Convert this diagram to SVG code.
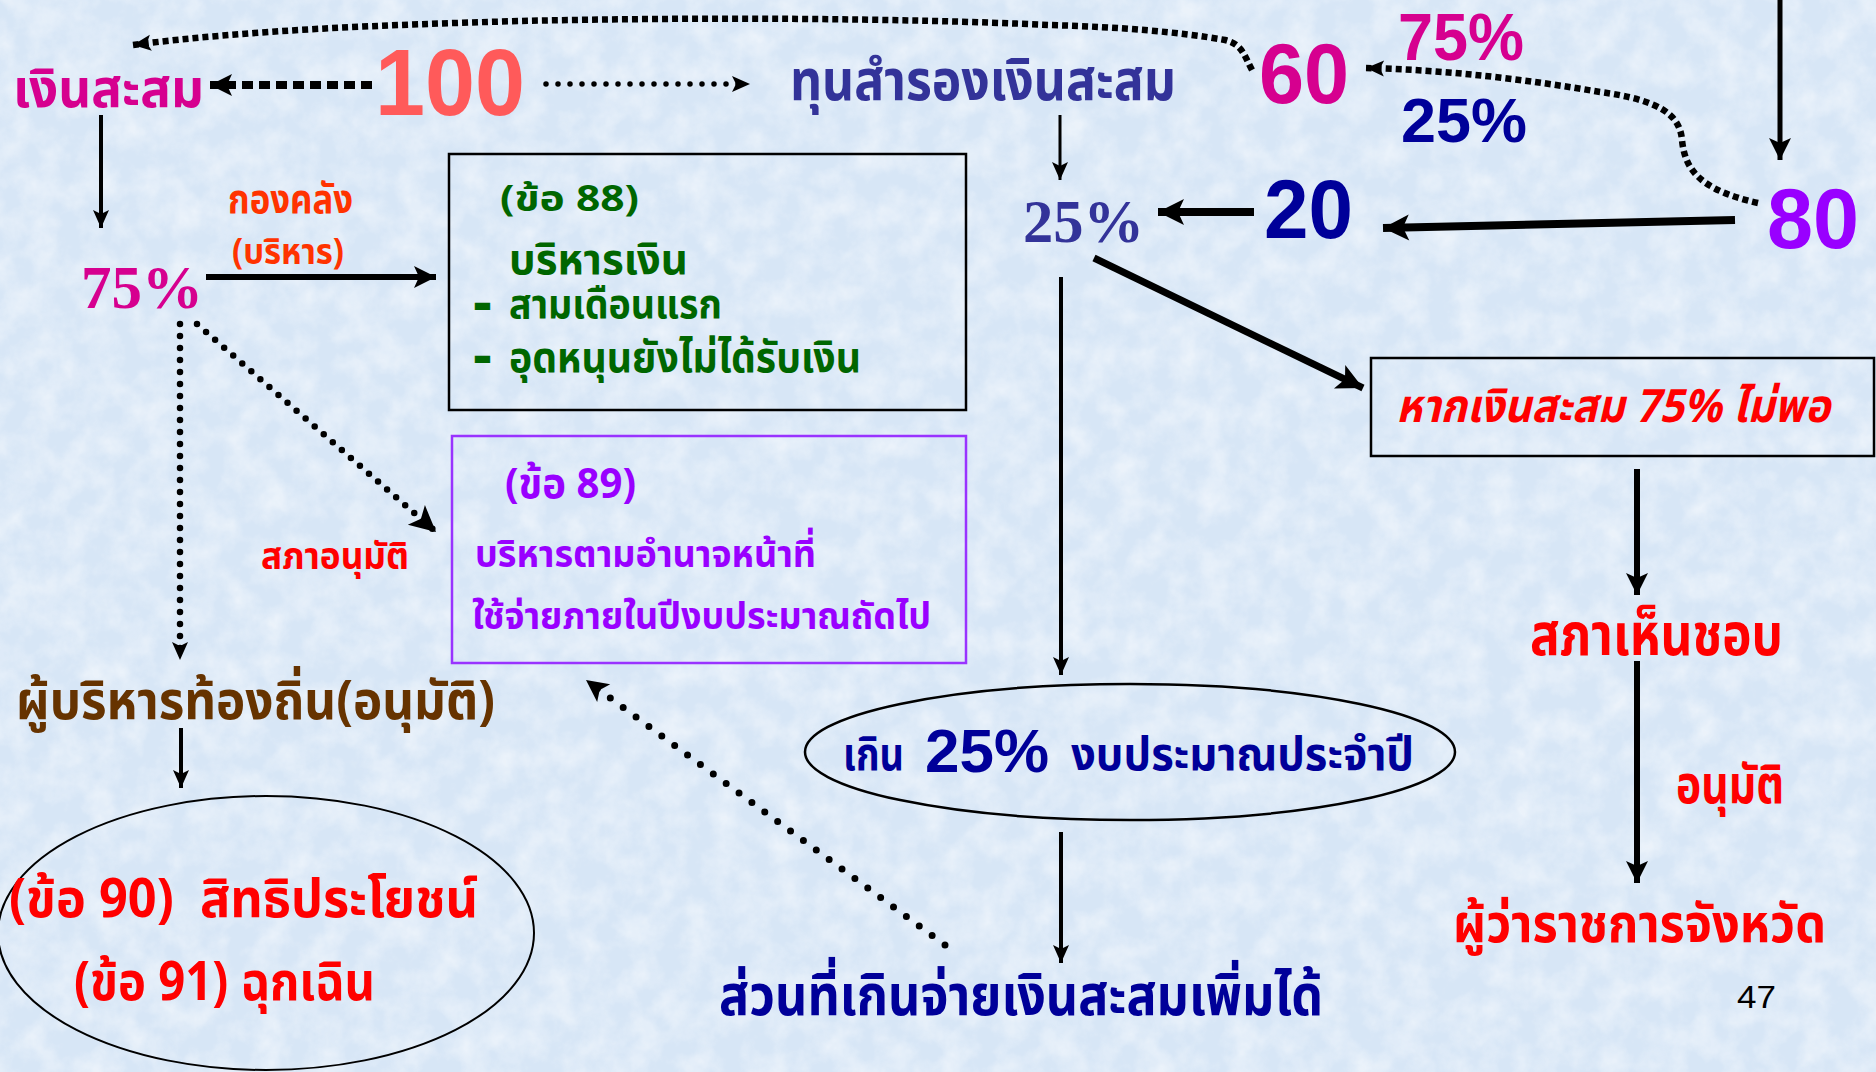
<svg xmlns="http://www.w3.org/2000/svg" width="1876" height="1072" viewBox="0 0 1876 1072">
<defs>
<style>
.th{font-family:"Noto Sans Thai","Noto Serif Thai","Tlwg Typo","Garuda","Loma","Norasi","Liberation Serif",serif;font-weight:bold}
.ar{font-family:"Liberation Sans",Arial,sans-serif;font-weight:bold}
.tm{font-family:"Liberation Serif","Times New Roman",serif;font-weight:bold}
.ln{fill:none;stroke:#000}
.dot{fill:none;stroke:#000;stroke-linecap:round}
.box{fill:none;stroke:#000;stroke-width:2.5}
</style>
<filter id="tex" x="0" y="0" width="100%" height="100%">
<feTurbulence type="fractalNoise" baseFrequency="0.035" numOctaves="4" seed="7"/>
<feColorMatrix type="matrix" values="0 0 0 0 1  0 0 0 0 1  0 0 0 0 1  0 0 0 1.8 -0.6"/>
</filter>
<marker id="ahs" markerUnits="userSpaceOnUse" viewBox="0 0 18 16" markerWidth="18" markerHeight="16" refX="18" refY="8" orient="auto" overflow="visible"><path d="M0,0 L18,8 L0,16 L4,8 z" fill="#000"/></marker>
<marker id="ahm" markerUnits="userSpaceOnUse" viewBox="0 0 22 22" markerWidth="22" markerHeight="22" refX="22" refY="11" orient="auto" overflow="visible"><path d="M0,0 L22,11 L0,22 L5,11 z" fill="#000"/></marker>
<marker id="ahl" markerUnits="userSpaceOnUse" viewBox="0 0 26 26" markerWidth="26" markerHeight="26" refX="26" refY="13" orient="auto" overflow="visible"><path d="M0,0 L26,13 L0,26 L6,13 z" fill="#000"/></marker>
</defs>
<rect width="1876" height="1072" fill="#d7e6f6"/>
<rect width="1876" height="1072" filter="url(#tex)" opacity="0.5"/>

<g id="connectors">
<path class="ln" d="M1252,70 C1244,55 1242,44 1225,40 C1180,32 1120,27 1050,25 C900,18 700,17 520,21 C380,25 250,30 133,45" stroke-width="6.5" stroke-dasharray="6 4" marker-end="url(#ahs)"/>
<path class="ln" d="M372,85 L210,85" stroke-width="8" stroke-dasharray="11 6" marker-end="url(#ahm)"/>
<path class="dot" d="M546,84 L750,84" stroke-width="5.5" stroke-dasharray="0 12" marker-end="url(#ahs)"/>
<path class="ln" d="M101,115 L101,228" stroke-width="4" marker-end="url(#ahs)"/>
<path class="ln" d="M206,277 L436,277" stroke-width="6" marker-end="url(#ahm)"/>
<path class="dot" d="M180,324 L180,660" stroke-width="6.5" stroke-dasharray="0 12" marker-end="url(#ahs)"/>
<path class="dot" d="M197,324 L436,532" stroke-width="6.5" stroke-dasharray="0 12" marker-end="url(#ahl)"/>
<path class="ln" d="M181,728 L181,788" stroke-width="4" marker-end="url(#ahs)"/>
<path class="dot" d="M945,945 L586,680" stroke-width="7" stroke-dasharray="0 16" marker-end="url(#ahm)"/>
<path class="ln" d="M1060,115 L1060,180" stroke-width="3" marker-end="url(#ahs)"/>
<path class="ln" d="M1061,277 L1061,675" stroke-width="4" marker-end="url(#ahs)"/>
<path class="ln" d="M1061,832 L1061,963" stroke-width="4" marker-end="url(#ahs)"/>
<path class="ln" d="M1094,258 L1363,388" stroke-width="7" marker-end="url(#ahl)"/>
<path class="ln" d="M1637,469 L1637,595" stroke-width="6" marker-end="url(#ahm)"/>
<path class="ln" d="M1637,661 L1637,883" stroke-width="6" marker-end="url(#ahm)"/>
<path class="ln" d="M1780,0 L1780,160" stroke-width="5" marker-end="url(#ahm)"/>
<path class="ln" d="M1735,220 L1383,228" stroke-width="8" marker-end="url(#ahl)"/>
<path class="ln" d="M1254,212 L1158,212" stroke-width="8" marker-end="url(#ahl)"/>
<path class="ln" d="M1758,203 C1700,190 1685,170 1682,140 C1680,115 1660,100 1600,92 C1530,80 1450,70 1366,68" stroke-width="6.5" stroke-dasharray="6 4" marker-end="url(#ahs)"/>
</g>

<g id="n-ngoen-sasom"><text class="th" x="13" y="107" font-size="54" fill="#d6008f" textLength="191" lengthAdjust="spacingAndGlyphs">เงินสะสม</text></g>
<g id="n-100"><text class="ar" x="375" y="115" font-size="95" fill="#ff5a5a" textLength="150" lengthAdjust="spacingAndGlyphs">100</text></g>
<g id="n-thun-samrong"><text class="th" x="790" y="100" font-size="56" fill="#333399" textLength="386" lengthAdjust="spacingAndGlyphs">ทุนสำรองเงินสะสม</text></g>
<g id="n-60"><text class="ar" x="1259" y="103" font-size="85" fill="#d6008f" textLength="90" lengthAdjust="spacingAndGlyphs">60</text></g>
<g id="n-75-top"><text class="ar" x="1398" y="60" font-size="66" fill="#d6008f" textLength="126" lengthAdjust="spacingAndGlyphs">75%</text></g>
<g id="n-25-top"><text class="ar" x="1401" y="142" font-size="63" fill="#000099" textLength="126" lengthAdjust="spacingAndGlyphs">25%</text></g>
<g id="n-80"><text class="ar" x="1767" y="248" font-size="85" fill="#9900ff" textLength="92" lengthAdjust="spacingAndGlyphs">80</text></g>
<g id="n-20"><text class="ar" x="1264" y="238" font-size="84" fill="#000099" textLength="89" lengthAdjust="spacingAndGlyphs">20</text></g>
<g id="n-25-mid"><text class="tm" x="1023" y="242" font-size="62" fill="#333399" textLength="121" lengthAdjust="spacingAndGlyphs">25%</text></g>
<g id="n-75-left"><text class="tm" x="81" y="308" font-size="62" fill="#d6008f" textLength="122" lengthAdjust="spacingAndGlyphs">75%</text></g>
<g id="n-kongkhlang">
<text class="th" x="228" y="213" font-size="40" fill="#ff3300" textLength="125" lengthAdjust="spacingAndGlyphs">กองคลัง</text>
<text class="th" x="232" y="264" font-size="36" fill="#ff3300" textLength="112" lengthAdjust="spacingAndGlyphs">(บริหาร)</text>
</g>
<g id="n-kho88">
<rect class="box" x="449" y="154" width="517" height="256"/>
<text class="th" x="500" y="211" font-size="36" fill="#006600" textLength="139" lengthAdjust="spacingAndGlyphs">(ข้อ 88)</text>
<text class="th" x="509" y="274" font-size="42" fill="#006600" textLength="179" lengthAdjust="spacingAndGlyphs">บริหารเงิน</text>
<text class="ar" x="474" y="318" font-size="44" fill="#006600" stroke="#006600" stroke-width="2" textLength="17" lengthAdjust="spacingAndGlyphs">-</text>
<text class="th" x="509" y="318" font-size="40" fill="#006600" textLength="213" lengthAdjust="spacingAndGlyphs">สามเดือนแรก</text>
<text class="ar" x="474" y="371" font-size="44" fill="#006600" stroke="#006600" stroke-width="2" textLength="17" lengthAdjust="spacingAndGlyphs">-</text>
<text class="th" x="509" y="372" font-size="42" fill="#006600" textLength="352" lengthAdjust="spacingAndGlyphs">อุดหนุนยังไม่ได้รับเงิน</text>
</g>
<g id="n-kho89">
<rect x="452" y="436" width="514" height="227" fill="none" stroke="#9933ff" stroke-width="2.5"/>
<text class="th" x="505" y="498" font-size="42" fill="#9900ff" textLength="131" lengthAdjust="spacingAndGlyphs">(ข้อ 89)</text>
<text class="th" x="475" y="567" font-size="38" fill="#9900ff" textLength="341" lengthAdjust="spacingAndGlyphs">บริหารตามอำนาจหน้าที่</text>
<text class="th" x="472" y="629" font-size="38" fill="#9900ff" textLength="459" lengthAdjust="spacingAndGlyphs">ใช้จ่ายภายในปีงบประมาณถัดไป</text>
</g>
<g id="n-saphaanumat"><text class="th" x="261" y="569" font-size="38" fill="#ff0000" textLength="148" lengthAdjust="spacingAndGlyphs">สภาอนุมัติ</text></g>
<g id="n-phuborihan"><text class="th" x="16" y="719" font-size="54" fill="#663300" textLength="479" lengthAdjust="spacingAndGlyphs">ผู้บริหารท้องถิ่น(อนุมัติ)</text></g>
<g id="n-kho90-91">
<ellipse cx="266" cy="933" rx="268" ry="137" fill="none" stroke="#000" stroke-width="2"/>
<text class="th" x="9" y="917" font-size="54" fill="#ff0000" textLength="469" lengthAdjust="spacingAndGlyphs" xml:space="preserve">(ข้อ 90)  สิทธิประโยชน์</text>
<text class="th" x="74" y="1000" font-size="54" fill="#ff0000" textLength="301" lengthAdjust="spacingAndGlyphs">(ข้อ 91) ฉุกเฉิน</text>
</g>
<g id="n-koen25">
<ellipse cx="1130" cy="752" rx="325" ry="68" fill="none" stroke="#000" stroke-width="2.5"/>
<text class="th" x="843" y="770" font-size="46" fill="#000099" textLength="61" lengthAdjust="spacingAndGlyphs">เกิน</text>
<text class="ar" x="925" y="772" font-size="61" fill="#000099" textLength="124" lengthAdjust="spacingAndGlyphs">25%</text>
<text class="th" x="1071" y="770" font-size="46" fill="#000099" textLength="343" lengthAdjust="spacingAndGlyphs">งบประมาณประจำปี</text>
</g>
<g id="n-suanthikoen"><text class="th" x="719" y="1015" font-size="56" fill="#000099" textLength="604" lengthAdjust="spacingAndGlyphs">ส่วนที่เกินจ่ายเงินสะสมเพิ่มได้</text></g>
<g id="n-hak">
<rect class="box" x="1371" y="358" width="503" height="98"/>
<text class="th" x="1396" y="422" font-size="46" font-style="italic" fill="#ff0000" textLength="434" lengthAdjust="spacingAndGlyphs">หากเงินสะสม 75% ไม่พอ</text>
</g>
<g id="n-saphahenchop"><text class="th" x="1530" y="655" font-size="58" fill="#ff0000" textLength="253" lengthAdjust="spacingAndGlyphs">สภาเห็นชอบ</text></g>
<g id="n-anumat"><text class="th" x="1676" y="803" font-size="54" fill="#ff0000" textLength="108" lengthAdjust="spacingAndGlyphs">อนุมัติ</text></g>
<g id="n-phuwa"><text class="th" x="1453" y="942" font-size="54" fill="#ff0000" textLength="373" lengthAdjust="spacingAndGlyphs">ผู้ว่าราชการจังหวัด</text></g>
<g id="n-page"><text x="1737" y="1008" font-family="Liberation Sans, Arial, sans-serif" font-size="32" fill="#000" textLength="39" lengthAdjust="spacingAndGlyphs">47</text></g>
</svg>
